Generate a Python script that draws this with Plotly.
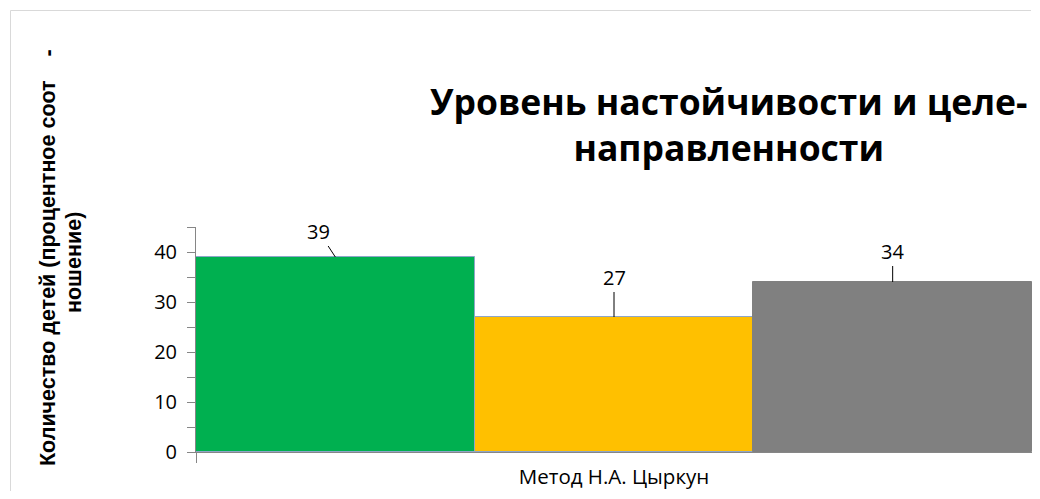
import plotly.graph_objects as go

# ---- data ----
category = ["Метод Н.А. Цыркун"]
series_names = ["Высокий", "Средний", "Низкий"]
values = [39, 27, 34]
colors = ["#00B050", "#FFC000", "#808080"]
line_colors = ["#8EA6C8", "#8EA6C8", "#808080"]
title_text = "Уровень настойчивости и целе-<br>направленности"
ytitle_lines = ["Количество детей (процентное соот\u00a0\u00a0\u00a0\u00a0-", "ношение)"]
# label offsets (pixels) for the leader-line labels
label_dx = [-17, 0, 0]
label_dy = [-26, -40, -31]

# page has an 8px body margin; work in window pixel coords
OFF = 8
W, H = 1040 - 2 * OFF, 499 - 2 * OFF
L = 196 - OFF
T = 227 - OFF
R = W - (1032 - OFF)
B = H - (452 - OFF)
pw, ph = W - L - R, H - T - B

def px_x(px):
    return (px - OFF - L) / pw

def px_y(py):
    return (H - B - (py - OFF)) / ph

fig = go.Figure()
n = len(values)
for i, (name, v, c, lc) in enumerate(zip(series_names, values, colors, line_colors)):
    fig.add_trace(go.Bar(
        x=category, y=[v], name=name,
        marker=dict(color=c, line=dict(color=lc, width=1)),
        showlegend=False,
    ))

annotations = []
for i, v in enumerate(values):
    xc = -0.5 + (i + 0.5) / n
    annotations.append(dict(
        x=xc, y=v, xref="x", yref="y", text=str(v),
        showarrow=True, arrowhead=0, arrowwidth=1, arrowcolor="#000000",
        ax=label_dx[i], ay=label_dy[i], standoff=0, startstandoff=0,
        font=dict(family="Open Sans", size=20, color="#000000"),
    ))

annotations.append(dict(
    x=px_x(729), y=px_y(123.5), xref="paper", yref="paper",
    text="<b>" + title_text + "</b>", showarrow=False,
    xanchor="center", yanchor="middle", align="center",
    font=dict(family="Open Sans", size=35.5, color="#000000"),
))
for line, xc, yc in zip(ytitle_lines, [48, 74], [258, 262]):
    annotations.append(dict(
        x=px_x(xc), y=px_y(yc), xref="paper", yref="paper",
        text="<b>" + line + "</b>", showarrow=False, textangle=-90,
        xanchor="center", yanchor="middle", align="center",
        font=dict(family="Liberation Sans", size=21.5, color="#000000"),
    ))

border = dict(color="#D9D9D9", width=1)
shapes = [
    dict(type="line", xref="paper", yref="paper",
         x0=px_x(10.5), x1=px_x(10.5), y0=px_y(495), y1=px_y(10.5), line=border, layer="below"),
    dict(type="line", xref="paper", yref="paper",
         x0=px_x(10.5), x1=px_x(1031), y0=px_y(10.5), y1=px_y(10.5), line=border, layer="below"),
]

fig.update_layout(
    width=W, height=H,
    margin=dict(l=L, r=R, t=T, b=B, pad=0, autoexpand=False),
    plot_bgcolor="white", paper_bgcolor="white",
    barmode="group", bargap=0, bargroupgap=0,
    annotations=annotations, shapes=shapes,
    font=dict(family="Open Sans", color="#000000"),
)
fig.update_xaxes(
    type="category", tickson="boundaries", ticks="outside", ticklen=10,
    tickcolor="#868686", showline=True, linecolor="#868686", linewidth=1,
    showgrid=False, ticklabelstandoff=6, automargin=False,
    tickfont=dict(family="Open Sans", size=20.5, color="#000000"),
)
fig.update_yaxes(
    range=[0, 45], tickvals=[0, 10, 20, 30, 40], ticks="outside", ticklen=8,
    tickcolor="#868686", showline=True, linecolor="#868686", linewidth=1,
    showgrid=False, zeroline=False, ticklabelstandoff=6, automargin=False,
    minor=dict(dtick=5, ticks="outside", ticklen=8, tickcolor="#868686", showgrid=False),
    tickfont=dict(family="Open Sans", size=20, color="#000000"),
)

fig.write_html("out.html")
